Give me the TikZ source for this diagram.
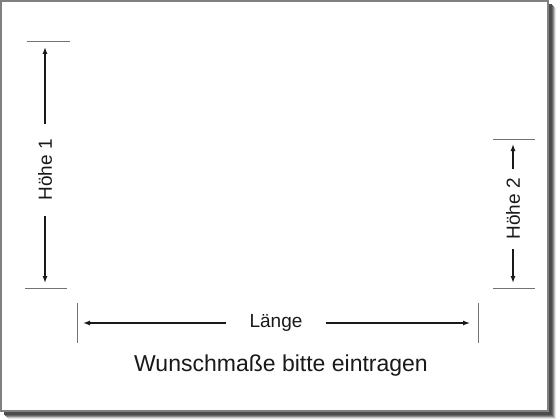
\documentclass[tikz,border=0pt]{standalone}
\usepackage{fontspec}
\setmainfont{Liberation Sans}
\usetikzlibrary{arrows.meta}

\begin{document}
\begin{tikzpicture}[x=1pt,y=-1pt,
    dim/.style={draw=black!90,line width=1.3pt,-{Latex[length=7pt,width=5pt]}},
    tick/.style={draw=black!55,line width=1pt},
    label/.style={font=\fontsize{19}{21}\selectfont,text=black!90,inner ysep=0pt}]
    % \draw[help lines] (0,0) grid[step=20] (560,420);
    \useasboundingbox (0,0) rectangle (560,420);

    % frame with shadow
    \foreach \o/\c in {8/10,7/25,6/45,5/60,4/70} {
        \fill[black!\c] (\o,\o) rectangle (548+\o,411+\o);
    }
    \draw[fill=white,draw=black!50,line width=1.5pt] (1,1) rectangle (548,411);

    % left side
    \coordinate (l_t) at (45,47);
    \coordinate (l_b) at (45,283);
    \node[label,rotate=90,inner xsep=15pt] (hoehe1) at (45,170) {Höhe 1};
    \draw[tick] (27,42) -- (70,42);
    \draw[tick] (25,288) -- (67,288);

    % right side
    \coordinate (r_t) at (513,144);
    \coordinate (r_b) at (513,283);
    \node[label,rotate=90,inner xsep=9pt] (hoehe2) at (513,209) {Höhe 2};
    \draw[tick] (493,139) -- (535,139);
    \draw[tick] (493,288) -- (535,288);

    % bottom
    \coordinate (b_l) at (83,323);
    \coordinate (b_r) at (470,323);
    \node[label,inner xsep=23pt] (laenge) at (276,323) {Länge};
    \draw[tick] (77,303) -- (77,343);
    \draw[tick] (478,303) -- (478,343);

    \node[font=\fontsize{23}{26}\selectfont,text=black!90] (hint) at (281,366) {Wunschmaße bitte eintragen};

    \path[dim] (hoehe1) edge (l_t)
               (hoehe1) edge (l_b)
               (hoehe2) edge (r_t)
               (hoehe2) edge (r_b)
               (laenge) edge (b_l)
               (laenge) edge (b_r);
\end{tikzpicture}
\end{document}
